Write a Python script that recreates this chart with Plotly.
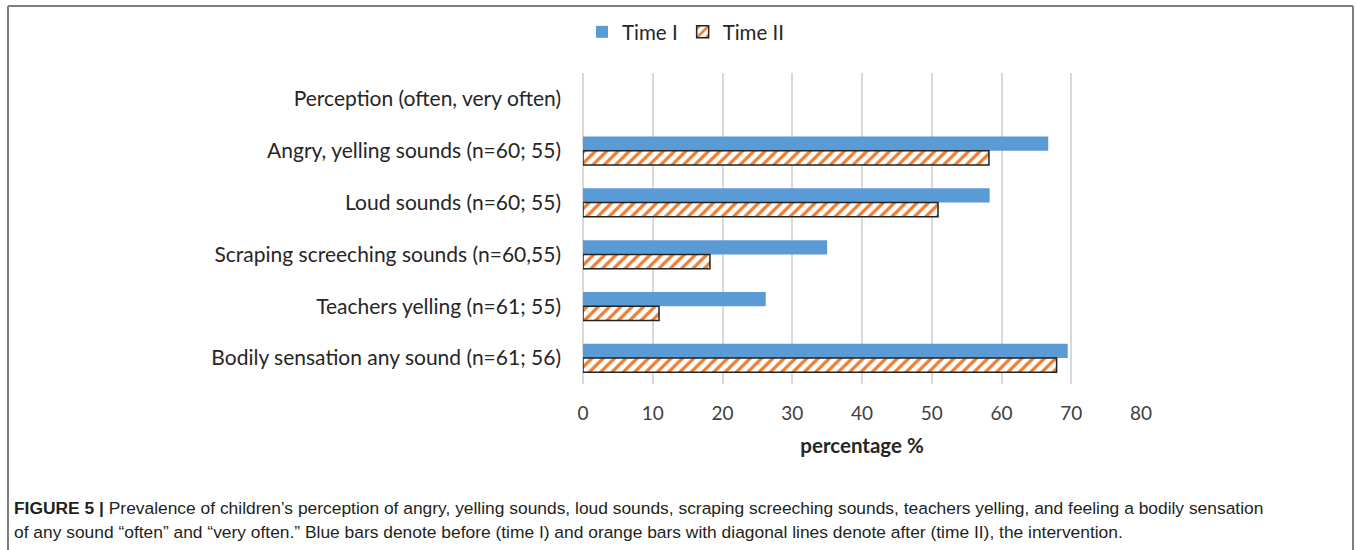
import plotly.graph_objects as go

categories = [
    "Perception (often, very often)",
    "Angry, yelling sounds (n=60; 55)",
    "Loud sounds (n=60; 55)",
    "Scraping screeching sounds (n=60,55)",
    "Teachers yelling (n=61; 55)",
    "Bodily sensation any sound (n=61; 56)",
]
time1 = [None, 66.7, 58.3, 35.0, 26.2, 69.5]
time2 = [None, 58.2, 50.9, 18.2, 10.9, 67.9]
x_ticks = [0, 10, 20, 30, 40, 50, 60, 70, 80]

W, H = 1356, 550
L, R, T, B = 583, 1141, 73, 384

def px(x):
    return (x - L) / (R - L)

def py(y):
    return (B - y) / (B - T)

fig = go.Figure()
fig.add_trace(go.Bar(
    y=categories, x=time1, orientation="h", name="Time I",
    marker=dict(color="#5B9BD5", line=dict(width=0)),
))
fig.add_trace(go.Bar(
    y=categories, x=time2, orientation="h", name="Time II",
    marker=dict(color="white", line=dict(color="#222222", width=1.5),
                pattern=dict(shape="/", fgcolor="#ED7D31", bgcolor="white",
                             size=8, solidity=0.4, fillmode="replace")),
))

font_main = "Lato, Open Sans, sans-serif"
cap_font = dict(family="Liberation Sans, Arial", size=17.4, color="#231F20")
fig.update_layout(
    width=W, height=H,
    margin=dict(l=L, r=W - R, t=T, b=H - B, pad=0),
    paper_bgcolor="white", plot_bgcolor="white",
    barmode="group", bargap=0.45, bargroupgap=0,
    font=dict(family=font_main, size=21, color="#262626"),
    showlegend=True,
    legend=dict(orientation="h", xref="container", yref="container",
                x=686 / W, y=1 - 32 / H, xanchor="center", yanchor="middle",
                font=dict(size=20.5, color="#262626"), traceorder="normal",
                itemwidth=30),
    xaxis=dict(range=[0, 80], tickvals=x_ticks, showgrid=True,
               gridcolor="#D9D9D9", gridwidth=1.5, zeroline=True,
               zerolinecolor="#D9D9D9", zerolinewidth=1.5, showline=False,
               ticks="", ticklabelstandoff=16,
               tickfont=dict(size=19, color="#404040"),
               title=dict(text="<b>percentage %</b>", standoff=15,
                          font=dict(size=20.5, color="#262626"))),
    yaxis=dict(autorange="reversed", categoryorder="array",
               categoryarray=categories, showgrid=False, ticks="",
               ticklabelstandoff=21, tickfont=dict(size=21, color="#262626")),
    shapes=[
        dict(type="line", xref="paper", yref="paper", x0=px(8), x1=px(1353),
             y0=py(6), y1=py(6), line=dict(color="#7F7F7F", width=2)),
        dict(type="line", xref="paper", yref="paper", x0=px(8), x1=px(8),
             y0=py(6), y1=py(552), line=dict(color="#7F7F7F", width=2)),
        dict(type="line", xref="paper", yref="paper", x0=px(1353), x1=px(1353),
             y0=py(6), y1=py(552), line=dict(color="#7F7F7F", width=2)),
    ],
    annotations=[
        dict(xref="paper", yref="paper", x=px(12), y=py(508),
             xanchor="left", yanchor="middle", showarrow=False,
             text="<b>FIGURE 5 |</b> Prevalence of children\u2019s perception of angry, yelling sounds, loud sounds, scraping screeching sounds, teachers yelling, and feeling a bodily sensation",
             font=cap_font),
        dict(xref="paper", yref="paper", x=px(12), y=py(532),
             xanchor="left", yanchor="middle", showarrow=False,
             text="of any sound \u201coften\u201d and \u201cvery often.\u201d Blue bars denote before (time I) and orange bars with diagonal lines denote after (time II), the intervention.",
             font=cap_font),
    ],
)

fig.write_html("out.html", config={"displayModeBar": False},
               post_script="document.body.style.margin='0';")
